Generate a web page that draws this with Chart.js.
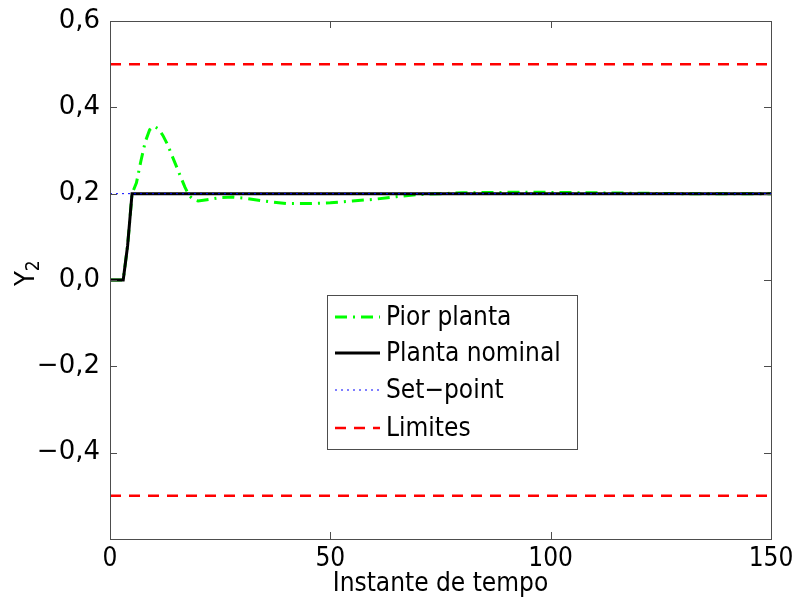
<!DOCTYPE html>
<html>
<head>
<meta charset="utf-8">
<script src="https://cdn.jsdelivr.net/npm/chart.js@4.4.0/dist/chart.umd.min.js"></script>
<style>
html, body { margin: 0; padding: 0; background: #fff; }
#wrap { width: 795px; height: 608px; }
</style>
</head>
<body>
<div id="wrap"><canvas id="grafico" width="795" height="608"></canvas></div>
<script>
// dados
const tempoPior = [0, 3, 4, 5, 6, 7, 8, 9, 10, 11, 12, 13, 14, 15, 16, 17, 18, 19, 20, 22, 25, 28, 31, 35, 40, 45, 50, 55, 60, 65, 70, 75, 80, 90, 100, 110, 120, 130, 150];
const piorPlanta = [0, 0, 0.08, 0.2, 0.225, 0.275, 0.32, 0.348, 0.356, 0.35, 0.335, 0.315, 0.29, 0.265, 0.24, 0.215, 0.195, 0.186, 0.183, 0.186, 0.191, 0.192, 0.189, 0.183, 0.177, 0.177, 0.179, 0.183, 0.187, 0.193, 0.198, 0.2, 0.202, 0.203, 0.203, 0.202, 0.201, 0.2, 0.2];
const tempoNominal = [0, 3, 4, 5, 150];
const plantaNominal = [0, 0, 0.08, 0.2, 0.2];
const tempoRef = [0, 150];
const setPoint = [0.2, 0.2];
const limiteSup = [0.5, 0.5];
const limiteInf = [-0.5, -0.5];
const xTicks = [0, 50, 100, 150];
const yTicks = [-0.6, -0.4, -0.2, 0, 0.2, 0.4, 0.6];

const FONTE = '"DejaVu Sans Condensed", "DejaVu Sans", sans-serif';
const FONTE_Y = '"DejaVu Sans", sans-serif';

function pontos(xs, ys) {
    return xs.map((x, i) => ({ x: x, y: ys[i] }));
}

function formatarY(v) {
    if (Math.abs(v + 0.6) < 1e-9) return '';
    return v.toFixed(1).replace('.', ',').replace('-', '\u2212');
}

const datasets = [
    {
        label: 'Pior planta',
        data: pontos(tempoPior, piorPlanta),
        borderColor: '#00ff00',
        borderWidth: 3,
        borderDash: [12, 6, 2, 6],
        order: 2
    },
    {
        label: 'Planta nominal',
        data: pontos(tempoNominal, plantaNominal),
        borderColor: '#000000',
        borderWidth: 3,
        order: 1
    },
    {
        label: 'Set\u2212point',
        data: pontos(tempoRef, setPoint),
        borderColor: '#0000ff',
        borderWidth: 1,
        borderDash: [2, 4],
        order: 0
    },
    {
        label: 'Limites',
        data: pontos(tempoRef, limiteSup),
        borderColor: '#ff0000',
        borderWidth: 2.5,
        borderDash: [11, 8],
        order: 3
    },
    {
        label: 'Limites_inf',
        data: pontos(tempoRef, limiteInf),
        borderColor: '#ff0000',
        borderWidth: 2.5,
        borderDash: [11, 8],
        order: 3
    }
];

// moldura e ticks para dentro, como no matlab
const moldura = {
    id: 'moldura',
    afterDatasetsDraw(chart) {
        const ctx = chart.ctx;
        const a = chart.chartArea;
        const sx = chart.scales.x;
        const sy = chart.scales.y;
        ctx.save();
        ctx.strokeStyle = '#4d4d4d';
        ctx.lineWidth = 1;
        ctx.strokeRect(a.left + 0.5, a.top + 0.5, a.right - a.left, a.bottom - a.top);
        ctx.beginPath();
        xTicks.forEach(v => {
            const px = Math.round(sx.getPixelForValue(v)) + 0.5;
            ctx.moveTo(px, a.bottom); ctx.lineTo(px, a.bottom - 7);
            ctx.moveTo(px, a.top); ctx.lineTo(px, a.top + 7);
        });
        yTicks.forEach(v => {
            const py = Math.round(sy.getPixelForValue(v)) + 0.5;
            ctx.moveTo(a.left, py); ctx.lineTo(a.left + 7, py);
            ctx.moveTo(a.right, py); ctx.lineTo(a.right - 7, py);
        });
        ctx.stroke();
        ctx.restore();
    }
};

// legenda dentro do grafico
const legenda = {
    id: 'legenda',
    afterDraw(chart) {
        const ctx = chart.ctx;
        const box = { x: 327.5, y: 295.5, w: 250, h: 154 };
        const linhas = [317, 353, 390, 428];
        ctx.save();
        ctx.fillStyle = '#fff';
        ctx.fillRect(box.x, box.y, box.w, box.h);
        ctx.strokeStyle = '#4d4d4d';
        ctx.lineWidth = 1;
        ctx.strokeRect(box.x, box.y, box.w, box.h);
        ctx.font = '26px ' + FONTE;
        ctx.textBaseline = 'middle';
        ctx.fillStyle = '#000';
        for (let i = 0; i < 4; i++) {
            const ds = chart.data.datasets[i];
            ctx.beginPath();
            ctx.strokeStyle = ds.borderColor;
            ctx.lineWidth = ds.borderWidth;
            ctx.setLineDash(ds.borderDash || []);
            ctx.moveTo(335, linhas[i]);
            ctx.lineTo(380, linhas[i]);
            ctx.stroke();
            ctx.setLineDash([]);
            ctx.fillText(ds.label, 386, linhas[i] + 1);
        }
        ctx.restore();
    }
};

// titulo do eixo y com subscrito
const tituloY = {
    id: 'tituloY',
    afterDraw(chart) {
        const ctx = chart.ctx;
        ctx.save();
        ctx.translate(27, 286);
        ctx.rotate(-Math.PI / 2);
        ctx.fillStyle = '#000';
        ctx.textBaseline = 'middle';
        ctx.font = '27px ' + FONTE;
        ctx.fillText('Y', 0, 0);
        const w = ctx.measureText('Y').width;
        ctx.font = '19px ' + FONTE;
        ctx.fillText('2', w, 7);
        ctx.restore();
    }
};

new Chart(document.getElementById('grafico').getContext('2d'), {
    type: 'line',
    data: { datasets: datasets },
    options: {
        responsive: false,
        animation: false,
        devicePixelRatio: 1,
        layout: { padding: { top: 21, right: 24, left: 0, bottom: 0 } },
        elements: { point: { radius: 0 }, line: { tension: 0, fill: false } },
        plugins: { legend: { display: false }, tooltip: { enabled: false } },
        scales: {
            x: {
                type: 'linear',
                min: 0,
                max: 150,
                afterBuildTicks: (s) => { s.ticks = xTicks.map(v => ({ value: v })); },
                afterFit: (s) => { s.height = 69; },
                grid: { display: false },
                border: { display: false },
                ticks: { color: '#000', font: { family: FONTE, size: 26 }, padding: -3, maxRotation: 0 },
                title: { display: true, text: 'Instante de tempo', color: '#000', font: { family: FONTE, size: 26 }, padding: { top: 0, bottom: 8 } }
            },
            y: {
                type: 'linear',
                min: -0.6,
                max: 0.6,
                afterBuildTicks: (s) => { s.ticks = yTicks.map(v => ({ value: v })); },
                afterFit: (s) => { s.width = 110; },
                grid: { display: false },
                border: { display: false },
                ticks: { color: '#000', font: { family: FONTE_Y, size: 26 }, padding: 2, callback: formatarY }
            }
        }
    },
    plugins: [moldura, legenda, tituloY]
});
</script>
</body>
</html>
